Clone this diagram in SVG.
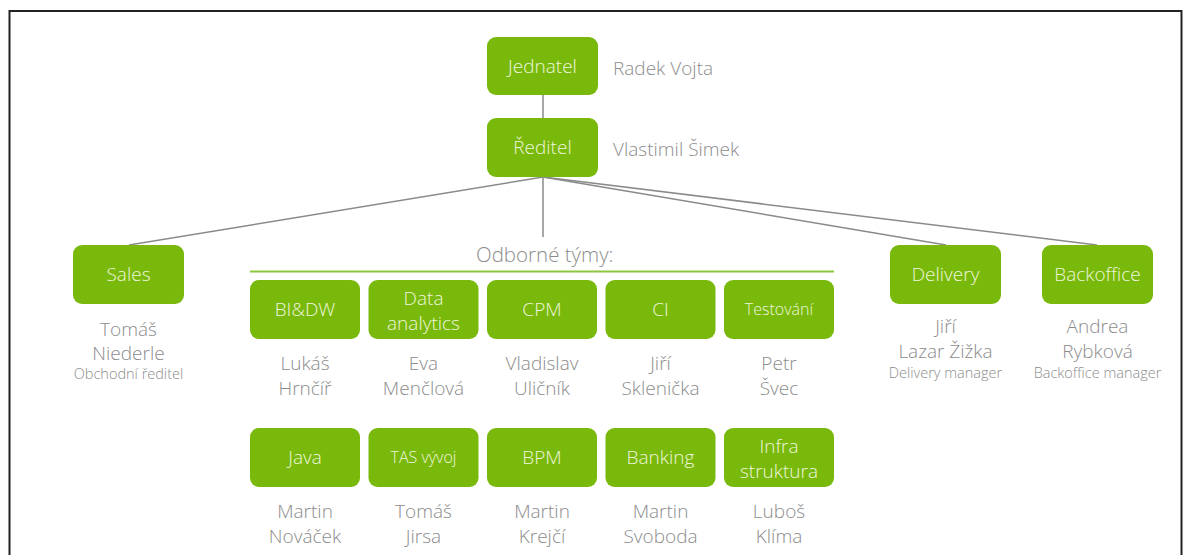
<svg xmlns="http://www.w3.org/2000/svg" width="1183" height="555" viewBox="0 0 1183 555">
<style>
.box{fill:#79B90C;}
.bt{font-family:"Open Sans","Noto Sans","Liberation Sans",sans-serif;font-weight:300;font-size:19px;fill:#EEF6DD;text-anchor:middle;}
.nm{font-family:"Open Sans","Noto Sans","Liberation Sans",sans-serif;font-weight:300;font-size:19px;fill:#8C8C8C;text-anchor:middle;}
.rl{font-family:"Open Sans","Noto Sans","Liberation Sans",sans-serif;font-weight:300;font-size:14.5px;fill:#8C8C8C;text-anchor:middle;}
.side{font-family:"Open Sans","Noto Sans","Liberation Sans",sans-serif;font-weight:300;font-size:19px;fill:#8C8C8C;}
.cn{stroke:#8A8A8A;stroke-width:1.5;fill:none;}
</style>
<rect x="0" y="0" width="1183" height="555" fill="#FFFFFF"/>
<path d="M9.5 555 V11 H1181.5 V555" fill="none" stroke="#222" stroke-width="2"/>
<g id="connectors">
<line class="cn" x1="543" y1="95" x2="543" y2="118"/>
<line class="cn" x1="543" y1="177" x2="129" y2="245"/>
<line class="cn" x1="543" y1="177" x2="543" y2="237"/>
<line class="cn" x1="543" y1="177" x2="946" y2="245"/>
<line class="cn" x1="543" y1="177" x2="1097" y2="245"/>
</g>
<g id="jednatel"><rect class="box" x="487" y="37" width="111" height="58" rx="9"/><text class="bt" x="542.5" y="73">Jednatel</text><text class="side" x="613" y="75">Radek Vojta</text></g>
<g id="reditel"><rect class="box" x="487" y="118" width="111" height="59" rx="9"/><text class="bt" x="542.5" y="154">Ředitel</text><text class="side" x="613" y="156">Vlastimil Šimek</text></g>
<g id="sales"><rect class="box" x="73" y="245" width="111" height="59" rx="9"/><text class="bt" x="128.5" y="281">Sales</text><text class="nm" x="128.5" y="336">Tomáš</text><text class="nm" x="128.5" y="360">Niederle</text><text class="rl" x="128.5" y="379">Obchodní ředitel</text></g>
<g id="delivery"><rect class="box" x="890" y="245" width="111" height="59" rx="9"/><text class="bt" x="945.5" y="281">Delivery</text><text class="nm" x="945.5" y="333">Jiří</text><text class="nm" x="945.5" y="358">Lazar Žižka</text><text class="rl" x="945.5" y="378">Delivery manager</text></g>
<g id="backoffice"><rect class="box" x="1042" y="245" width="111" height="59" rx="9"/><text class="bt" x="1097.5" y="281">Backoffice</text><text class="nm" x="1097.5" y="333">Andrea</text><text class="nm" x="1097.5" y="358">Rybková</text><text class="rl" x="1097.5" y="378">Backoffice manager</text></g>
<g id="odborne"><text class="side" x="476" y="262" style="font-size:20.5px">Odborné týmy:</text><line x1="250" y1="271.5" x2="834" y2="271.5" stroke="#8CC63F" stroke-width="2"/></g>
<g id="bidw"><rect class="box" x="250" y="280" width="110" height="59" rx="9"/><text class="bt" x="305" y="316">BI&amp;DW</text><text class="nm" x="305" y="370">Lukáš</text><text class="nm" x="305" y="395">Hrnčíř</text></g>
<g id="data"><rect class="box" x="368.5" y="280" width="110" height="59" rx="9"/><text class="bt" x="423.5" y="305">Data</text><text class="bt" x="423.5" y="330">analytics</text><text class="nm" x="423.5" y="370">Eva</text><text class="nm" x="423.5" y="395">Menčlová</text></g>
<g id="cpm"><rect class="box" x="487" y="280" width="110" height="59" rx="9"/><text class="bt" x="542" y="316">CPM</text><text class="nm" x="542" y="370">Vladislav</text><text class="nm" x="542" y="395">Uličník</text></g>
<g id="ci"><rect class="box" x="605.5" y="280" width="110" height="59" rx="9"/><text class="bt" x="660.5" y="316">CI</text><text class="nm" x="660.5" y="370">Jiří</text><text class="nm" x="660.5" y="395">Sklenička</text></g>
<g id="testovani"><rect class="box" x="724" y="280" width="110" height="59" rx="9"/><text class="bt" x="779" y="315" style="font-size:16px">Testování</text><text class="nm" x="779" y="370">Petr</text><text class="nm" x="779" y="395">Švec</text></g>
<g id="java"><rect class="box" x="250" y="428" width="110" height="59" rx="9"/><text class="bt" x="305" y="464">Java</text><text class="nm" x="305" y="518">Martin</text><text class="nm" x="305" y="543">Nováček</text></g>
<g id="tas"><rect class="box" x="368.5" y="428" width="110" height="59" rx="9"/><text class="bt" x="423.5" y="463" style="font-size:16px">TAS vývoj</text><text class="nm" x="423.5" y="518">Tomáš</text><text class="nm" x="423.5" y="543">Jirsa</text></g>
<g id="bpm"><rect class="box" x="487" y="428" width="110" height="59" rx="9"/><text class="bt" x="542" y="464">BPM</text><text class="nm" x="542" y="518">Martin</text><text class="nm" x="542" y="543">Krejčí</text></g>
<g id="banking"><rect class="box" x="605.5" y="428" width="110" height="59" rx="9"/><text class="bt" x="660.5" y="464">Banking</text><text class="nm" x="660.5" y="518">Martin</text><text class="nm" x="660.5" y="543">Svoboda</text></g>
<g id="infra"><rect class="box" x="724" y="428" width="110" height="59" rx="9"/><text class="bt" x="779" y="453">Infra</text><text class="bt" x="779" y="478">struktura</text><text class="nm" x="779" y="518">Luboš</text><text class="nm" x="779" y="543">Klíma</text></g>
</svg>
